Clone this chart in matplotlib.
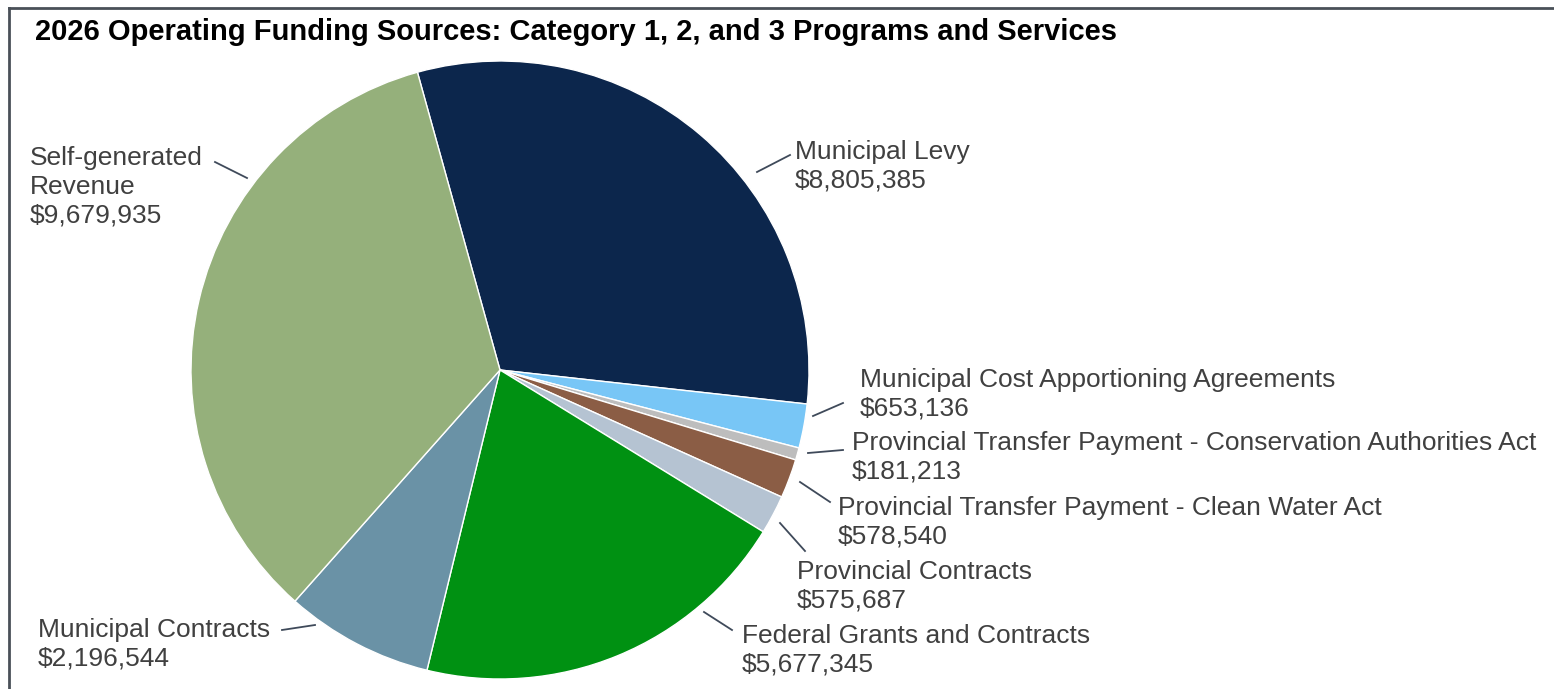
import matplotlib.pyplot as plt
from matplotlib.lines import Line2D

# funding sources, clockwise from the top
sources = ['Municipal Levy',
           'Municipal Cost Apportioning Agreements',
           'Provincial Transfer Payment - Conservation Authorities Act',
           'Provincial Transfer Payment - Clean Water Act',
           'Provincial Contracts',
           'Federal Grants and Contracts',
           'Municipal Contracts',
           'Self-generated\nRevenue']
amounts = [8805385, 653136, 181213, 578540, 575687, 5677345, 2196544, 9679935]
colors = ['#0c264c', '#78c6f6', '#bdbdbd', '#8b5d45', '#b5c3d2', '#009112', '#6a92a6', '#95b07b']

# label placement (pixels from top-left) and leader lines
label_pos = [(795, 140), (860, 368), (852, 431), (838, 496), (797, 560), (742, 624), (38, 618), (30, 146)]
leaders = [((757, 172), (790, 155)), ((813, 416), (843, 403)), ((808, 453), (843, 450)),
           ((800, 482), (830, 502)), ((780, 523), (805, 551)), ((704, 612), (732, 630)),
           ((282, 630), (315, 625)), ((215, 162), (247, 178))]

plt.rcParams['font.family'] = ['Liberation Sans', 'DejaVu Sans']

W, H = 1554, 689
fig = plt.figure(figsize=(W / 100, H / 100), dpi=100)
ax = fig.add_axes([0, 0, 1, 1])

ax.pie(amounts, colors=colors, startangle=105.5, counterclock=False,
       center=(500, H - 370), radius=309, frame=True,
       wedgeprops={'edgecolor': 'white', 'linewidth': 1})
ax.set_xlim(0, W)
ax.set_ylim(0, H)
ax.set_aspect('equal')
ax.axis('off')

for name, amt, (x, y), (p0, p1) in zip(sources, amounts, label_pos, leaders):
    ax.text(x, H - y, f'{name}\n${amt:,}', ha='left', va='top',
            fontsize=19, color='#404040', linespacing=1.25)
    ax.plot([p0[0], p1[0]], [H - p0[1], H - p1[1]], color='#3f4a5a', lw=1.3)

fig.text(35 / W, 1 - 32 / H, '2026 Operating Funding Sources: Category 1, 2, and 3 Programs and Services',
         fontsize=21, fontweight='bold', color='black', va='center', ha='left')

# frame: only top and left edges are visible in the original
fig.add_artist(Line2D([9 / W, 1], [1 - 8 / H, 1 - 8 / H], transform=fig.transFigure, color='#4a5058', lw=2))
fig.add_artist(Line2D([9 / W, 9 / W], [0, 1 - 8 / H], transform=fig.transFigure, color='#4a5058', lw=2))

fig.savefig('out.png', dpi=100)
